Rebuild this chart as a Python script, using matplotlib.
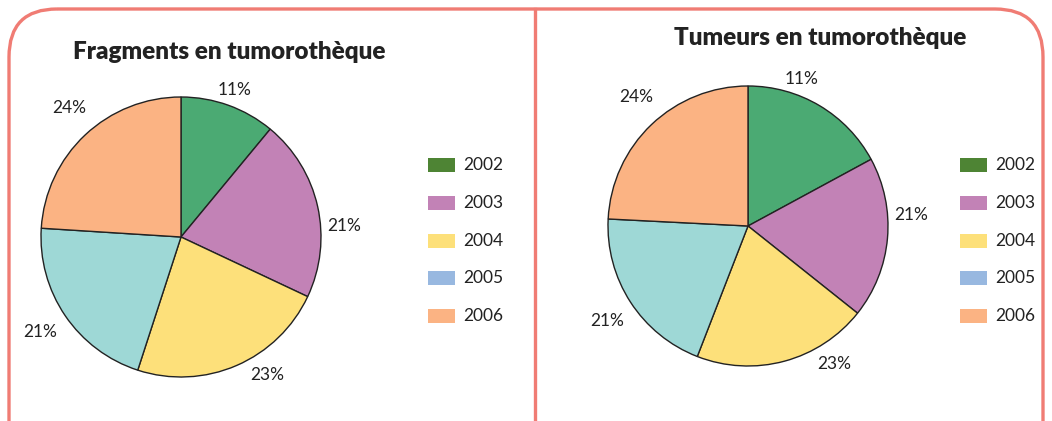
import numpy as np
import matplotlib.pyplot as plt
from matplotlib.patches import FancyBboxPatch, Rectangle

plt.rcParams['font.family'] = ['Lato', 'DejaVu Sans']

# données
annees = ['2002', '2003', '2004', '2005', '2006']
fragments = [11, 21, 23, 21, 24]
fragments_labels = ['11%', '21%', '23%', '21%', '24%']
tumeurs = [17.1, 18.6, 20.2, 19.9, 24.2]      # parts telles que dessinées
tumeurs_labels = ['11%', '21%', '23%', '21%', '24%']

couleurs_pie = ['#4BAA73', '#C282B6', '#FDE07A', '#9ED8D6', '#FBB383']
couleurs_leg = ['#4E8434', '#C282B6', '#FDE07A', '#98B8E0', '#FBB383']
cadre = '#F07C74'

W, H = 1052, 421
fig = plt.figure(figsize=(W / 100, H / 100), dpi=100)

# calque en pixels pour le cadre, les titres et les légendes
bg = fig.add_axes([0, 0, 1, 1])
bg.set_xlim(0, W)
bg.set_ylim(H, 0)
bg.axis('off')
bg.add_patch(FancyBboxPatch((9, 9), 1034, 600, boxstyle='round,pad=0,rounding_size=48',
                            fill=False, edgecolor=cadre, lw=2.4))
bg.plot([535, 535], [9, H], color=cadre, lw=2.4)


def camembert(cx, cy, r, valeurs, labels, titre, tx, ty, lx):
    pad = 1.35
    ax = fig.add_axes([(cx - pad * r) / W, (H - cy - pad * r) / H, 2 * pad * r / W, 2 * pad * r / H])
    ax.pie(valeurs, colors=couleurs_pie, startangle=90, counterclock=False,
           wedgeprops=dict(edgecolor='#222222', linewidth=1.0))
    ax.set_xlim(-pad, pad)
    ax.set_ylim(-pad, pad)
    ax.set_aspect('equal')
    # étiquettes placées comme sur l'original
    angles = [20, 86, 148, 236, 319]
    dist = [1.12, 1.17, 1.16, 1.21, 1.22]
    for a, d, t in zip(angles, dist, labels):
        th = np.deg2rad(a)
        ax.text(d * np.sin(th), d * np.cos(th), t, ha='center', va='center',
                fontsize=12.5, color='#222222')
    bg.text(tx, ty, titre, ha='center', va='center', fontsize=17.5, fontweight='heavy', color='#222222')
    for i, (an, c) in enumerate(zip(annees, couleurs_leg)):
        y = 165 + i * 37.8
        bg.add_patch(Rectangle((lx, y - 7), 27, 14, facecolor=c, edgecolor='none'))
        bg.text(lx + 35, y, an, ha='left', va='center', fontsize=12.5, color='#222222')


camembert(181, 237, 140, fragments, fragments_labels, 'Fragments en tumorothèque', 229, 52, 428)
camembert(748, 226, 140, tumeurs, tumeurs_labels, 'Tumeurs en tumorothèque', 820, 38, 960)

fig.savefig('out.png', dpi=100)
